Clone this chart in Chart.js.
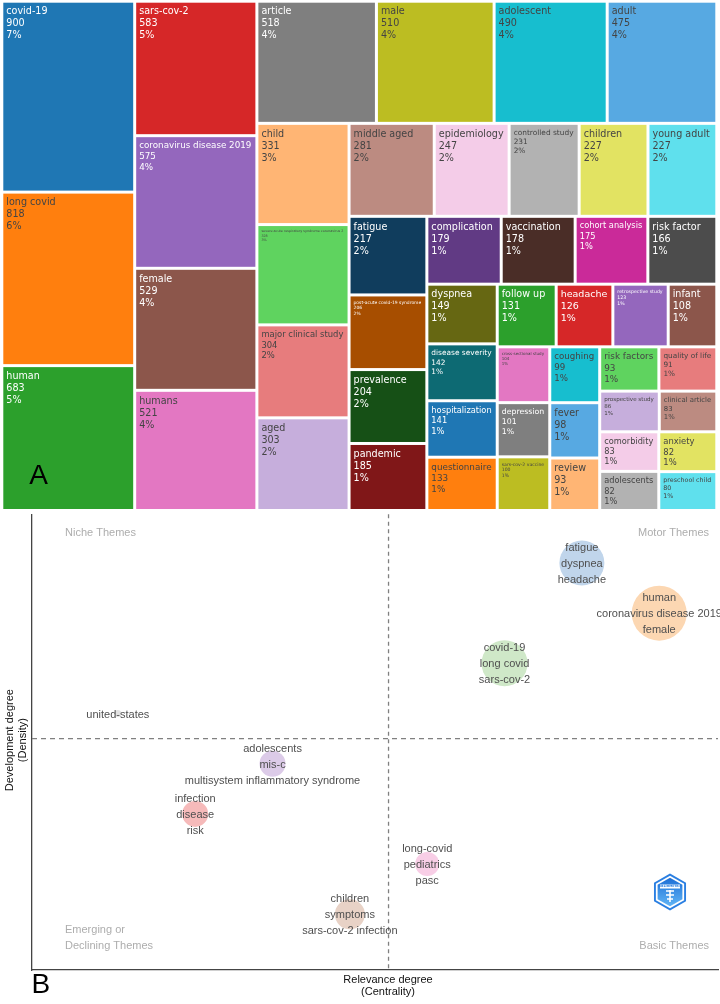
<!DOCTYPE html>
<html>
<head>
<meta charset="utf-8">
<script src="https://cdn.jsdelivr.net/npm/chart.js@4.4.1/dist/chart.umd.min.js"></script>
<style>
  html, body { margin: 0; padding: 0; background: #fff; }
  canvas { display: block; }
</style>
</head>
<body>
<canvas id="treemap" width="720" height="513"></canvas>
<canvas id="thematic" width="720" height="491"></canvas>
<script>
// ---- A: treemap of keyword frequencies ----
const treeLabels = [
  "covid-19", "long covid", "human", "sars-cov-2", "coronavirus disease 2019",
  "female", "humans", "article", "male", "adolescent", "adult", "child",
  "severe acute respiratory syndrome coronavirus 2", "major clinical study", "aged",
  "middle aged", "epidemiology", "controlled study", "children", "young adult",
  "fatigue", "post-acute covid-19 syndrome", "prevalence", "pandemic", "complication",
  "vaccination", "cohort analysis", "risk factor", "dyspnea", "disease severity",
  "hospitalization", "questionnaire", "follow up", "headache", "retrospective study",
  "infant", "cross-sectional study", "depression", "sars-cov-2 vaccine", "coughing",
  "fever", "review", "risk factors", "quality of life", "prospective study",
  "clinical article", "comorbidity", "adolescents", "anxiety", "preschool child"
];
const treeValues = [
  900, 818, 683, 583, 575, 529, 521, 518, 510, 490, 475, 331,
  328, 304, 303, 281, 247, 231, 227, 227, 217, 206, 204, 185, 179,
  178, 175, 166, 149, 142, 141, 133, 131, 126, 123, 108, 104, 101,
  100, 99, 98, 93, 93, 91, 86, 83, 83, 82, 82, 80
];

// ---- B: thematic map (clusters) ----
const clusterWords = [
  ["fatigue", "dyspnea", "headache"],
  ["human", "coronavirus disease 2019", "female"],
  ["covid-19", "long covid", "sars-cov-2"],
  ["united-states"],
  ["adolescents", "mis-c", "multisystem inflammatory syndrome"],
  ["infection", "disease", "risk"],
  ["long-covid", "pediatrics", "pasc"],
  ["children", "symptoms", "sars-cov-2 infection"]
];
const centralityRank = [7, 8, 6, 1, 3, 2, 5, 4];
const densityRank = [8, 7, 6, 5, 4, 3, 2, 1];
const clusterSize = [22.5, 27.5, 23, 3.5, 13, 13, 12, 15];
const quadrantNames = [["Niche Themes"], ["Motor Themes"], ["Emerging or", "Declining Themes"], ["Basic Themes"]];
const xTitle = ["Relevance degree", "(Centrality)"];
const yTitle = ["Development degree", "(Density)"];
const xLimits = [-0.11, 8.76];
const yLimits = [-0.11, 8.97];

// colours
const colorway = ['#1f77b4', '#ff7f0e', '#2ca02c', '#d62728', '#9467bd', '#8c564b', '#e377c2', '#7f7f7f', '#bcbd22', '#17becf'];
const bubbleColors = ['#c0d5eb', '#fcd7b2', '#cfe8c8', '#e2e2e2', '#dccbe8', '#f6baba', '#f8cee6', '#e8d2c6'];

function hexToRgb(h) {
  return [parseInt(h.slice(1, 3), 16), parseInt(h.slice(3, 5), 16), parseInt(h.slice(5, 7), 16)];
}
function shiftLightness(hex, amt) {
  let [r, g, b] = hexToRgb(hex).map(v => v / 255);
  const max = Math.max(r, g, b), min = Math.min(r, g, b);
  let h = 0, s = 0, l = (max + min) / 2;
  const d = max - min;
  if (d) {
    s = l > 0.5 ? d / (2 - max - min) : d / (max + min);
    if (max === r) h = (g - b) / d + (g < b ? 6 : 0);
    else if (max === g) h = (b - r) / d + 2;
    else h = (r - g) / d + 4;
    h /= 6;
  }
  l = Math.min(1, Math.max(0, l + amt));
  const hue2rgb = (p, q, t) => {
    if (t < 0) t += 1; if (t > 1) t -= 1;
    if (t < 1 / 6) return p + (q - p) * 6 * t;
    if (t < 1 / 2) return q;
    if (t < 2 / 3) return p + (q - p) * (2 / 3 - t) * 6;
    return p;
  };
  let out;
  if (!s) out = [l, l, l];
  else {
    const q = l < 0.5 ? l * (1 + s) : l + s - l * s, p = 2 * l - q;
    out = [hue2rgb(p, q, h + 1 / 3), hue2rgb(p, q, h), hue2rgb(p, q, h - 1 / 3)];
  }
  return '#' + out.map(v => Math.round(v * 255).toString(16).padStart(2, '0')).join('');
}
// plotly-like extended treemap colours: base, lighter, darker
const treeColors = colorway.concat(colorway.map(c => shiftLightness(c, 0.2)), colorway.map(c => shiftLightness(c, -0.2)));

function isLight(hex) {
  const [r, g, b] = hexToRgb(hex);
  return (r * 299 + g * 587 + b * 114) / 1000 >= 128;
}

// squarified layout (same rules as d3 treemapSquarify, ratio 1)
function squarify(values, x0, y0, x1, y1) {
  const rects = [];
  const n = values.length;
  let value = values.reduce((a, b) => a + b, 0);
  let i0 = 0, i1 = 0;
  while (i0 < n) {
    const dx = x1 - x0, dy = y1 - y0;
    let sum = values[i1++];
    let minV = sum, maxV = sum;
    const alpha = Math.max(dy / dx, dx / dy) / value;
    let beta = sum * sum * alpha;
    let minRatio = Math.max(maxV / beta, beta / minV);
    for (; i1 < n; ++i1) {
      const v = values[i1];
      sum += v;
      if (v < minV) minV = v;
      if (v > maxV) maxV = v;
      beta = sum * sum * alpha;
      const ratio = Math.max(maxV / beta, beta / minV);
      if (ratio > minRatio) { sum -= v; break; }
      minRatio = ratio;
    }
    if (dx < dy) {
      const h = dy * sum / value;
      let x = x0;
      for (let i = i0; i < i1; i++) {
        const w = dx * values[i] / sum;
        rects[i] = { x0: x, x1: x + w, y0: y0, y1: y0 + h };
        x += w;
      }
      y0 += h;
    } else {
      const w = dx * sum / value;
      let y = y0;
      for (let i = i0; i < i1; i++) {
        const h = dy * values[i] / sum;
        rects[i] = { x0: x0, x1: x0 + w, y0: y, y1: y + h };
        y += h;
      }
      x0 += w;
    }
    value -= sum;
    i0 = i1;
  }
  return rects;
}

const treemapPlugin = {
  id: 'treemapCells',
  beforeDatasetsDraw(chart) {
    const { ctx, chartArea: ca, scales: { x, y } } = chart;
    const total = treeValues.reduce((a, b) => a + b, 0);
    // layout in pixel proportions, then expressed in the 0..1 scale units
    const rects = squarify(treeValues, 0, 0, ca.width, ca.height)
      .map(r => ({ x0: r.x0 / ca.width, x1: r.x1 / ca.width, y0: r.y0 / ca.height, y1: r.y1 / ca.height }));
    const gap = 1.5;
    const baseSize = 9.6;
    ctx.save();
    rects.forEach((r, i) => {
      const left = x.getPixelForValue(r.x0) + gap;
      const right = x.getPixelForValue(r.x1) - gap;
      const top = y.getPixelForValue(r.y0) + gap;
      const bottom = y.getPixelForValue(r.y1) - gap;
      const color = treeColors[i % treeColors.length];
      ctx.fillStyle = color;
      ctx.fillRect(left, top, right - left, bottom - top);

      const lines = [treeLabels[i], String(treeValues[i]), Math.round(treeValues[i] / total * 100) + '%'];
      ctx.font = baseSize + 'px "DejaVu Sans"';
      const widest = Math.max(...lines.map(t => ctx.measureText(t).width));
      const w = right - left, h = bottom - top;
      const fs = Math.min(baseSize, baseSize * (w - 7) / widest, (h - 4) / (3 * 1.3));
      ctx.font = fs + 'px "DejaVu Sans"';
      ctx.fillStyle = isLight(color) ? '#444' : '#fff';
      ctx.textAlign = 'left';
      ctx.textBaseline = 'middle';
      lines.forEach((t, k) => {
        ctx.fillText(t, left + 3, top + 3.5 + 0.6 * fs + k * 1.25 * fs);
      });
    });
    // panel letter
    ctx.fillStyle = '#000';
    ctx.font = '28px "Liberation Sans"';
    ctx.textAlign = 'left';
    ctx.textBaseline = 'alphabetic';
    ctx.fillText('A', ca.left + 27.5, ca.bottom - 27);
    ctx.restore();
  }
};

new Chart(document.getElementById('treemap'), {
  type: 'scatter',
  data: { datasets: [{ data: [] }] },
  options: {
    responsive: false,
    animation: false,
    events: [],
    layout: { autoPadding: false, padding: { left: 1.8, right: 3.2, top: 1.2, bottom: 2.5 } },
    plugins: { legend: { display: false }, tooltip: { enabled: false } },
    scales: {
      x: { type: 'linear', min: 0, max: 1, display: false },
      y: { type: 'linear', min: 0, max: 1, reverse: true, display: false }
    }
  },
  plugins: [treemapPlugin]
});

// ---- B ----
function hexPath(ctx, cx, cy, R) {
  ctx.beginPath();
  for (let k = 0; k < 6; k++) {
    const a = Math.PI / 180 * (60 * k - 90);
    const px = cx + R * Math.cos(a), py = cy + R * Math.sin(a);
    if (k) ctx.lineTo(px, py); else ctx.moveTo(px, py);
  }
  ctx.closePath();
}

const mean = arr => arr.reduce((a, b) => a + b, 0) / arr.length;

const thematicPlugin = {
  id: 'thematicDecor',
  beforeDatasetsDraw(chart) {
    const { ctx, chartArea: ca, scales: { x, y } } = chart;
    const mx = x.getPixelForValue(mean(centralityRank));
    const my = y.getPixelForValue(mean(densityRank));
    ctx.save();
    ctx.strokeStyle = '#808080';
    ctx.lineWidth = 1.3;
    ctx.setLineDash([4, 3.5]);
    ctx.beginPath();
    ctx.moveTo(mx, ca.top);
    ctx.lineTo(mx, ca.bottom);
    ctx.stroke();
    ctx.setLineDash([5, 4]);
    ctx.beginPath();
    ctx.moveTo(ca.left, my);
    ctx.lineTo(ca.right, my);
    ctx.stroke();
    ctx.restore();
  },
  afterDatasetsDraw(chart) {
    const { ctx, chartArea: ca, scales: { x, y } } = chart;
    ctx.save();
    // cluster labels
    ctx.font = '11px "Liberation Sans"';
    ctx.fillStyle = '#4f4f4f';
    ctx.textAlign = 'center';
    ctx.textBaseline = 'middle';
    clusterWords.forEach((words, i) => {
      const cx = x.getPixelForValue(centralityRank[i]);
      const cy = y.getPixelForValue(densityRank[i]);
      words.forEach((w, k) => {
        ctx.fillText(w, cx, cy + 1 + (k - (words.length - 1) / 2) * 16);
      });
    });
    // quadrant names
    ctx.fillStyle = '#adadad';
    ctx.textAlign = 'left';
    ctx.fillText(quadrantNames[0][0], ca.left + 33, ca.top + 19);
    quadrantNames[2].forEach((t, k) => ctx.fillText(t, ca.left + 33, ca.bottom - 40 + k * 15.7));
    ctx.textAlign = 'right';
    ctx.fillText(quadrantNames[1][0], ca.right - 9, ca.top + 19);
    ctx.fillText(quadrantNames[3][0], ca.right - 9, ca.bottom - 24.3);
    // axis titles
    ctx.fillStyle = '#111';
    ctx.textAlign = 'center';
    const xc = (ca.left + ca.right) / 2 + 13;
    xTitle.forEach((t, k) => ctx.fillText(t, xc, ca.bottom + 10 + k * 12));
    const yc = (ca.top + ca.bottom) / 2 - 2;
    yTitle.forEach((t, k) => {
      ctx.save();
      ctx.translate(10 + k * 12.5, yc);
      ctx.rotate(-Math.PI / 2);
      ctx.fillText(t, 0, 0);
      ctx.restore();
    });
    // panel letter
    ctx.fillStyle = '#000';
    ctx.font = '28px "Liberation Sans"';
    ctx.textAlign = 'left';
    ctx.textBaseline = 'alphabetic';
    ctx.fillText('B', ca.left - 0.5, ca.bottom + 23);
    // logo
    const lx = ca.right - 48, ly = ca.bottom - 78;
    hexPath(ctx, lx, ly, 18.5);
    ctx.fillStyle = '#2a7fe2';
    ctx.fill();
    hexPath(ctx, lx, ly, 16.3);
    ctx.fillStyle = '#ffffff';
    ctx.fill();
    hexPath(ctx, lx, ly, 14.3);
    const grad = ctx.createLinearGradient(0, ly - 14, 0, ly + 14);
    grad.addColorStop(0, '#1e6fd6');
    grad.addColorStop(1, '#5fb4f5');
    ctx.fillStyle = grad;
    ctx.fill();
    ctx.fillStyle = '#ffffff';
    ctx.fillRect(lx - 10, ly - 7.5, 20, 4);
    ctx.fillStyle = '#2a7fe2';
    ctx.font = 'bold 3px "DejaVu Sans"';
    ctx.textAlign = 'center';
    ctx.textBaseline = 'middle';
    ctx.fillText('BIBLIOMETRIX', lx, ly - 5.5);
    ctx.strokeStyle = '#ffffff';
    ctx.lineWidth = 1.6;
    ctx.beginPath();
    ctx.moveTo(lx - 4, ly - 1); ctx.lineTo(lx + 4, ly - 1);
    ctx.moveTo(lx, ly - 2); ctx.lineTo(lx, ly + 10);
    ctx.moveTo(lx - 4, ly + 3); ctx.lineTo(lx + 4, ly + 3);
    ctx.moveTo(lx - 3, ly + 7); ctx.lineTo(lx + 3, ly + 7);
    ctx.stroke();
    ctx.restore();
  }
};

new Chart(document.getElementById('thematic'), {
  type: 'bubble',
  data: {
    datasets: [{
      data: centralityRank.map((c, i) => ({ x: c, y: densityRank[i], r: clusterSize[i] })),
      backgroundColor: bubbleColors,
      borderWidth: 0
    }]
  },
  options: {
    responsive: false,
    animation: false,
    events: [],
    layout: { autoPadding: false, padding: { left: 32, right: 2, top: 1.3, bottom: 34 } },
    plugins: { legend: { display: false }, tooltip: { enabled: false } },
    scales: {
      x: {
        type: 'linear', min: xLimits[0], max: xLimits[1],
        ticks: { display: false },
        grid: { display: false, drawTicks: false },
        border: { display: true, color: '#444', width: 1.3 }
      },
      y: {
        type: 'linear', min: yLimits[0], max: yLimits[1],
        ticks: { display: false },
        grid: { display: false, drawTicks: false },
        border: { display: true, color: '#444', width: 1.3 }
      }
    }
  },
  plugins: [thematicPlugin]
});
</script>
</body>
</html>
